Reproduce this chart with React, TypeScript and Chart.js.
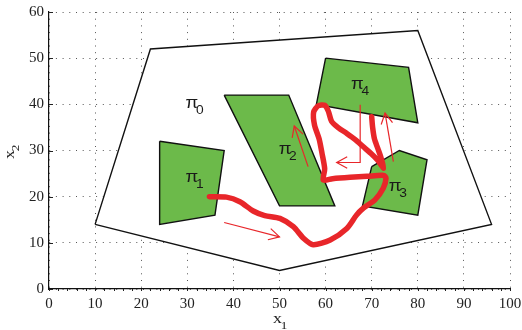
import React, { useEffect, useRef } from 'react';
import { Chart, registerables } from 'chart.js';

Chart.register(...registerables);

// Axis ranges / ticks
const xMin = 0, xMax = 100, xStep = 10;
const yMin = 0, yMax = 60, yStep = 10;

// Outer region boundary (pi_0)
const outerX = [10, 22, 80, 96, 50, 10];
const outerY = [14, 52, 56, 14, 4, 14];

// Green regions
const pi1X = [24, 38, 36, 24, 24];
const pi1Y = [32, 30, 16, 14, 32];
const pi2X = [38, 52, 62, 50, 38];
const pi2Y = [42, 42, 18, 18, 42];
const pi3X = [70, 76, 82, 80, 68, 70];
const pi3Y = [26.5, 30, 28, 16, 18, 26.5];
const pi4X = [60, 78, 80, 58, 60];
const pi4Y = [50, 48, 36, 40, 50];

// Red trajectory
const pathX = [34.8, 38.5, 41.4, 44.3, 46.8, 50.1, 53, 55.2, 57.3, 61, 64.6, 66.7, 68.2, 70.7, 72.5, 73.1, 72.6, 69, 65.3, 61.5, 59.5, 59.8, 59.2, 58.6, 57.6, 57.4, 58.4, 59.8, 60.6, 61.3, 62.8, 64.6, 66.5, 68.2, 69.8, 71.3, 72.6, 72, 71.3, 70.6, 70.2, 70];
const pathY = [20, 19.9, 18.9, 16.9, 15.9, 15.3, 13.5, 11, 9.6, 10.6, 13.1, 16, 17.5, 19.3, 21.8, 24, 24.6, 24.4, 24.2, 23.9, 23.6, 26, 29.5, 32.5, 35.5, 38.3, 39.7, 39.8, 38.5, 36.3, 34.9, 33.7, 32.3, 30.8, 29.4, 27.9, 26.2, 28.5, 30.5, 32.5, 35, 37.3];

// Thin arrows (last point is the arrow tip)
const arrow1X = [38, 50];
const arrow1Y = [14.4, 11.3];
const arrow2X = [56.2, 53.2];
const arrow2Y = [26.5, 35.3];
const arrow3X = [67.5, 67.5, 62.4];
const arrow3Y = [39.9, 27.4, 27.4];
const arrow4X = [74.7, 72.9];
const arrow4Y = [27.6, 38.1];

// Region labels pi_k
const labelSubs = ['0', '1', '2', '3', '4'];
const labelX = [31, 31, 51.2, 75.1, 66.9];
const labelY = [40.2, 24.1, 30.1, 22.2, 44.2];

const GREEN = '#6cba4a';
const RED = '#e8262a';

const pts = (xs: number[], ys: number[]) => xs.map((x, i) => ({ x, y: ys[i] }));

const arrowsX = [arrow1X, arrow2X, arrow3X, arrow4X];
const arrowsY = [arrow1Y, arrow2Y, arrow3Y, arrow4Y];

const decorPlugin = {
  id: 'decor',
  beforeDatasetsDraw(chart: any) {
    const { ctx, chartArea } = chart;
    const xs = chart.scales.x;
    const ys = chart.scales.y;
    ctx.save();
    ctx.strokeStyle = '#222';
    ctx.lineWidth = 1;
    ctx.beginPath();
    for (let v = xMin; v <= xMax; v += 2) {
      const px = Math.round(xs.getPixelForValue(v)) + 0.5;
      ctx.moveTo(px, chartArea.bottom);
      ctx.lineTo(px, chartArea.bottom + 2);
    }
    for (let v = yMin; v <= yMax; v += yStep) {
      const py = Math.round(ys.getPixelForValue(v)) + 0.5;
      ctx.moveTo(chartArea.left, py);
      ctx.lineTo(chartArea.left + 4, py);
    }
    ctx.stroke();
    ctx.restore();
  },
  afterDatasetsDraw(chart: any) {
    const { ctx, chartArea } = chart;
    const xs = chart.scales.x;
    const ys = chart.scales.y;
    ctx.save();
    // arrow heads
    ctx.strokeStyle = RED;
    ctx.lineWidth = 1.2;
    for (let k = 0; k < arrowsX.length; k++) {
      const ax = arrowsX[k], ay = arrowsY[k];
      const n = ax.length;
      const x1 = xs.getPixelForValue(ax[n - 2]), y1 = ys.getPixelForValue(ay[n - 2]);
      const x2 = xs.getPixelForValue(ax[n - 1]), y2 = ys.getPixelForValue(ay[n - 1]);
      const ang = Math.atan2(y2 - y1, x2 - x1);
      const len = 12, spread = 0.5;
      ctx.beginPath();
      ctx.moveTo(x2 - len * Math.cos(ang - spread), y2 - len * Math.sin(ang - spread));
      ctx.lineTo(x2, y2);
      ctx.lineTo(x2 - len * Math.cos(ang + spread), y2 - len * Math.sin(ang + spread));
      ctx.stroke();
    }
    // region labels
    ctx.fillStyle = '#1a1a1a';
    ctx.textBaseline = 'middle';
    for (let i = 0; i < labelSubs.length; i++) {
      const px = xs.getPixelForValue(labelX[i]);
      const py = ys.getPixelForValue(labelY[i]);
      ctx.save();
      ctx.translate(px, py);
      ctx.scale(1.15, 1);
      ctx.font = '16px "Liberation Sans"';
      ctx.textAlign = 'center';
      ctx.fillText('π', 0, 0);
      ctx.font = '12px "Liberation Sans"';
      ctx.textAlign = 'left';
      ctx.fillText(labelSubs[i], 3.5, 7);
      ctx.restore();
    }
    // axis titles
    ctx.fillStyle = '#222';
    const cx = (chartArea.left + chartArea.right) / 2;
    ctx.save();
    ctx.translate(cx - 2, 320);
    ctx.scale(1.2, 1);
    ctx.font = '15px "Liberation Serif"';
    ctx.textAlign = 'center';
    ctx.fillText('x', 0, -1);
    ctx.font = '11px "Liberation Serif"';
    ctx.fillText('1', 5.5, 6);
    ctx.restore();
    const cy = (chartArea.top + chartArea.bottom) / 2;
    ctx.save();
    ctx.translate(12, cy + 1);
    ctx.rotate(-Math.PI / 2);
    ctx.scale(1.2, 1);
    ctx.font = '15px "Liberation Serif"';
    ctx.textAlign = 'center';
    ctx.fillText('x', -2.5, -2);
    ctx.font = '11px "Liberation Serif"';
    ctx.fillText('2', 3, 4);
    ctx.restore();
    ctx.restore();
  },
};

export default function App() {
  const ref = useRef<HTMLCanvasElement>(null);
  useEffect(() => {
    if (!ref.current) return;
    const poly = (xs: number[], ys: number[], fillColor: string, order: number) => ({
      data: pts(xs, ys),
      borderColor: '#111',
      borderWidth: 1.4,
      backgroundColor: fillColor,
      fill: 'shape',
      pointRadius: 0,
      tension: 0,
      order,
    });
    const arrow = (xs: number[], ys: number[]) => ({
      data: pts(xs, ys),
      borderColor: RED,
      borderWidth: 1.2,
      fill: false,
      pointRadius: 0,
      tension: 0,
      order: 0,
    });
    const chart = new Chart(ref.current, {
      type: 'line',
      data: {
        datasets: [
          poly(outerX, outerY, '#ffffff', 10),
          poly(pi1X, pi1Y, GREEN, 5),
          poly(pi2X, pi2Y, GREEN, 5),
          poly(pi3X, pi3Y, GREEN, 5),
          poly(pi4X, pi4Y, GREEN, 5),
          {
            data: pts(pathX, pathY),
            borderColor: RED,
            borderWidth: 5.5,
            borderCapStyle: 'round',
            borderJoinStyle: 'round',
            fill: false,
            pointRadius: 0,
            tension: 0.25,
            order: 2,
          },
          arrow(arrow1X, arrow1Y),
          arrow(arrow2X, arrow2Y),
          arrow(arrow3X, arrow3Y),
          arrow(arrow4X, arrow4Y),
        ] as any,
      },
      options: {
        animation: false,
        responsive: false,
        devicePixelRatio: 1,
        layout: { padding: { top: 12, right: 12, left: 0, bottom: 0 } },
        plugins: { legend: { display: false }, tooltip: { enabled: false } },
        events: [],
        scales: {
          x: {
            type: 'linear',
            min: xMin,
            max: xMax,
            afterFit: (s: any) => { s.height = 41; s.paddingLeft = 0; s.paddingRight = 0; },
            ticks: {
              stepSize: xStep,
              color: '#222',
              padding: 6,
              font: { family: '"Liberation Serif"', size: 15 },
              maxRotation: 0,
            },
            grid: { color: '#555', lineWidth: 1, drawTicks: false },
            border: { display: true, color: '#111', width: 1.2, dash: [1, 5.7] },
          },
          y: {
            type: 'linear',
            min: yMin,
            max: yMax,
            afterFit: (s: any) => { s.width = 49; s.paddingTop = 0; s.paddingBottom = 0; },
            ticks: {
              stepSize: yStep,
              color: '#222',
              padding: 5,
              font: { family: '"Liberation Serif"', size: 15 },
            },
            grid: { color: '#555', lineWidth: 1, drawTicks: false },
            border: { display: true, color: '#111', width: 1.2, dash: [1, 5.7] },
          },
        },
      } as any,
      plugins: [decorPlugin],
    });
    return () => chart.destroy();
  }, []);
  return (
    <div style={{ position: 'absolute', left: 0, top: 0, width: 522, height: 330, background: '#fff' }}>
      <canvas ref={ref} width={522} height={330} style={{ display: 'block', width: 522, height: 330 }} />
    </div>
  );
}
